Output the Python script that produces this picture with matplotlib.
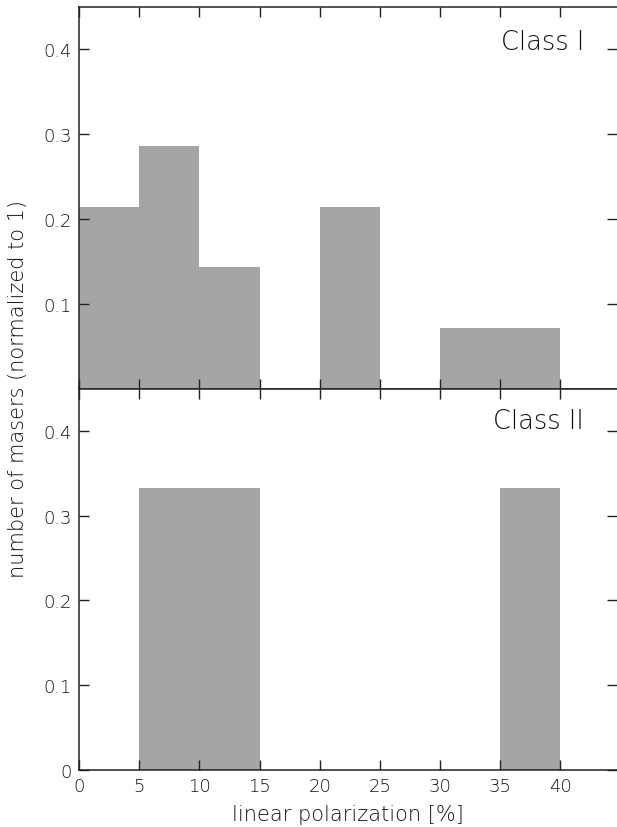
import matplotlib
matplotlib.use("Agg")
import matplotlib.pyplot as plt
import numpy as np

plt.rcParams['font.family'] = ['DejaVu Sans']

bin_edges = [0, 5, 10, 15, 20, 25, 30, 35, 40]
class1_values = [0.214, 0.286, 0.143, 0.0, 0.214, 0.0, 0.071, 0.071]
class2_values = [0.0, 0.333, 0.333, 0.0, 0.0, 0.0, 0.0, 0.333]
x_ticks = [0, 5, 10, 15, 20, 25, 30, 35, 40]
y_ticks_top = [0.1, 0.2, 0.3, 0.4]
y_ticks_bottom = [0, 0.1, 0.2, 0.3, 0.4]
panel_labels = ["Class I", "Class II"]

W, H = 617, 828
fig = plt.figure(figsize=(W / 100, H / 100), dpi=100)

left = 79 / W
right = 1.0
ax_top = fig.add_axes([left, 1 - 389.5 / H, right - left, (389.5 - 8) / H])
ax_bot = fig.add_axes([left, 1 - 771 / H, right - left, (771 - 389.5) / H])

bar_color = '#a5a5a5'
txt_color = '#111111'
fs = 13
for ax, vals, yt in [(ax_top, class1_values, y_ticks_top),
                     (ax_bot, class2_values, y_ticks_bottom)]:
    lefts = np.array(bin_edges[:-1])
    widths = np.diff(bin_edges)
    ax.bar(lefts, vals, width=widths, align='edge', color=bar_color, edgecolor='none', linewidth=0, zorder=1)
    ax.set_xlim(0, 44.7)
    ax.set_ylim(0, 0.45)
    ax.set_xticks(x_ticks)
    ax.set_yticks(yt)
    ax.set_yticklabels(['0' if v == 0 else f'{v:.1f}' for v in yt])
    ax.tick_params(axis='both', direction='in', length=7, width=1, color='#222222',
                   top=True, right=True, labelsize=fs, labelcolor=txt_color, pad=5)
    for s in ['left', 'top', 'bottom']:
        ax.spines[s].set_color('#222222')
        ax.spines[s].set_linewidth(1.1)
    ax.spines['right'].set_visible(False)
    for t in ax.get_yticklabels() + ax.get_xticklabels():
        t.set_fontweight('light')

ax_top.tick_params(labelbottom=False)
ax_top.text(584, H - 43, panel_labels[0], transform=None, fontsize=18.5, ha='right', va='center',
            color=txt_color, fontweight='light')
ax_bot.text(584, H - 422, panel_labels[1], transform=None, fontsize=18.5, ha='right', va='center',
            color=txt_color, fontweight='light')

fig.text(18 / W, 1 - 389 / H, 'number of masers (normalized to 1)', rotation=90, ha='center', va='center',
         fontsize=15, color=txt_color, fontweight='light')
fig.text(348 / W, 1 - 815 / H, 'linear polarization [%]', ha='center', va='center',
         fontsize=15, color=txt_color, fontweight='light')

fig.savefig('out.png', dpi=100)
